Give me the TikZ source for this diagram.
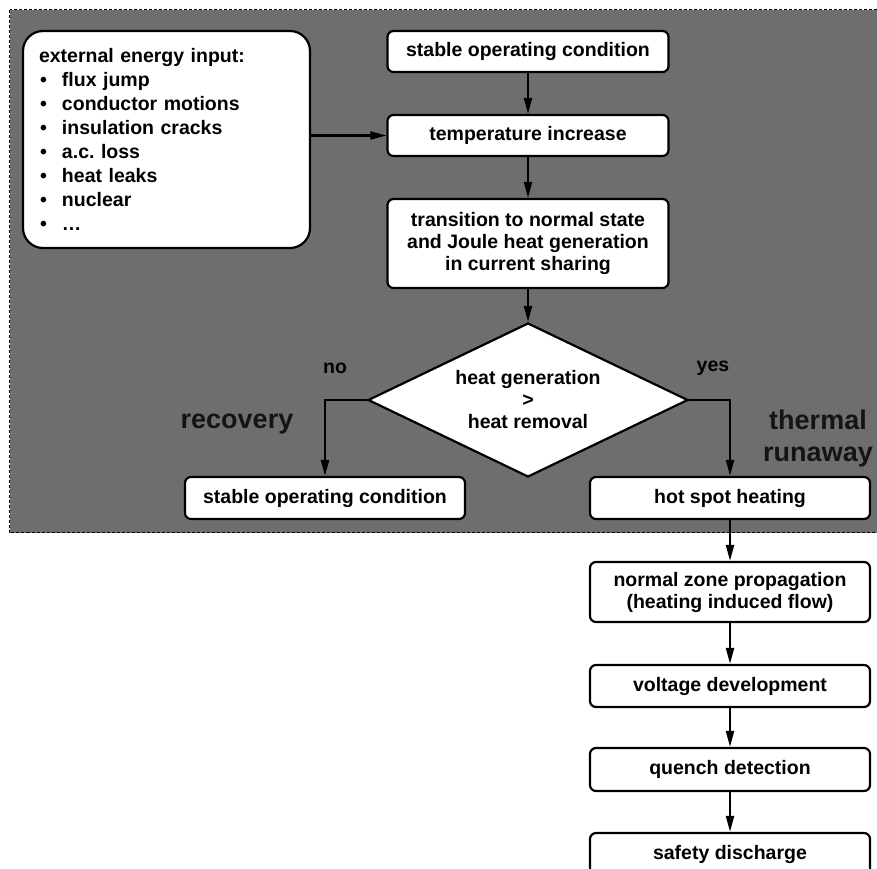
\documentclass[tikz,border=0pt]{standalone}
\usepackage{fontspec}
\setmainfont{Liberation Sans}
\frenchspacing
\usetikzlibrary{shapes.geometric,arrows.meta}
\definecolor{bggrey}{RGB}{110,110,110}
\definecolor{bigtext}{RGB}{20,20,20}
\begin{document}
\begin{tikzpicture}[x=1pt,y=-1pt,
  every node/.style={font=\fontsize{19.5}{22}\selectfont\bfseries},
  procbox/.style={draw=black,line width=2.2pt,fill=white,rounded corners=6pt,
    minimum width=281pt,inner sep=0pt,align=center},
  decbox/.style={diamond,aspect=2,draw=black,line width=2.2pt,fill=white,
    minimum width=320pt,minimum height=154pt,inner sep=0pt,align=center},
  flow/.style={line width=2.2pt,-{Triangle[length=16pt,width=8pt]}},
  bigtxt/.style={text=bigtext,font=\fontsize{27}{32}\selectfont\bfseries,align=center}
]
\useasboundingbox (0,0) rectangle (877,868);
\draw[fill=bggrey,draw=black,line width=0.9pt,dash pattern=on 3pt off 2pt]
  (9.5,9.5) rectangle (880,532.5);

\node[draw=black,line width=2.2pt,fill=white,rounded corners=20pt,
  minimum width=287pt,minimum height=217pt,text width=255pt,
  inner xsep=16pt,align=left,font=\fontsize{19.5}{24}\selectfont\bfseries]
  (ext) at (166.5,139.5)
  {external energy input:\\
   \makebox[23pt][l]{\hspace{1pt}\textbullet}flux jump\\
   \makebox[23pt][l]{\hspace{1pt}\textbullet}conductor motions\\
   \makebox[23pt][l]{\hspace{1pt}\textbullet}insulation cracks\\
   \makebox[23pt][l]{\hspace{1pt}\textbullet}a.c. loss\\
   \makebox[23pt][l]{\hspace{1pt}\textbullet}heat leaks\\
   \makebox[23pt][l]{\hspace{1pt}\textbullet}nuclear\\
   \makebox[23pt][l]{\hspace{1pt}\textbullet}\dots};

\node[procbox,minimum height=41pt] (s1) at (528,51.5) {stable operating condition};
\node[procbox,minimum height=41pt] (temp) at (528,135.5) {temperature increase};
\node[procbox,minimum height=89pt] (trans) at (528,243.5)
  {transition to normal state\\and Joule heat generation\\in current sharing};
\node[decbox] (dia) at (528,400) {heat generation\\>\\heat removal};

\node (no) at (335,368) {no};
\node (yes) at (713,368) {yes};
\node[bigtxt] (rec) at (237,424) {recovery};
\node[bigtxt] (therm) at (818,439) {thermal\\runaway};

\node[procbox,minimum width=280pt,minimum height=42pt] (s2) at (325,498) {stable operating condition};
\node[procbox,minimum width=280pt,minimum height=42pt] (hot) at (730,498) {hot spot heating};
\node[procbox,minimum width=280pt,minimum height=60pt] (nz) at (730,592)
  {normal zone propagation\\(heating induced flow)};
\node[procbox,minimum width=280pt,minimum height=42pt] (volt) at (730,686) {voltage development};
\node[procbox,minimum width=280pt,minimum height=43pt] (quench) at (730,769.5) {quench detection};
\node[procbox,minimum width=280pt,minimum height=42pt] (safe) at (730,854) {safety discharge};

\draw[flow] (s1) -- (temp);
\draw[flow] (temp) -- (trans);
\draw[flow] (trans) -- (dia);
\draw[flow] (temp.west -| ext.east) -- (temp.west);
\draw[flow] (dia.west) -| (s2.north);
\draw[flow] (dia.east) -| (hot.north);
\draw[flow] (hot) -- (nz);
\draw[flow] (nz) -- (volt);
\draw[flow] (volt) -- (quench);
\draw[flow] (quench) -- (safe);
\end{tikzpicture}
\end{document}
